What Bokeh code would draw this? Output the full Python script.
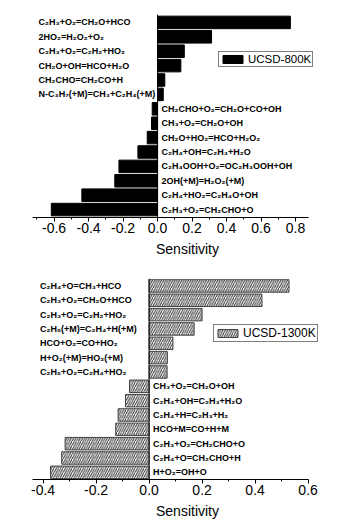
from bokeh.plotting import figure
from bokeh.models import Range1d, FixedTicker, PrintfTickFormatter, Span, Legend, LegendItem, ColumnDataSource
from bokeh.layouts import column
from bokeh.core.properties import value
from bokeh.embed import file_html
from bokeh.resources import INLINE

reactions_800 = [
    "C₂H₃+O₂=CH₂O+HCO", "2HO₂=H₂O₂+O₂", "C₂H₃+O₂=C₂H₂+HO₂", "CH₂O+OH=HCO+H₂O",
    "CH₂CHO=CH₂CO+H", "N-C₃H₇(+M)=CH₃+C₂H₄(+M)", "CH₂CHO+O₂=CH₂O+CO+OH",
    "CH₃+O₂=CH₂O+OH", "CH₂O+HO₂=HCO+H₂O₂", "C₂H₄+OH=C₂H₃+H₂O",
    "C₂H₄OOH+O₂=OC₂H₃OOH+OH", "2OH(+M)=H₂O₂(+M)", "C₂H₄+HO₂=C₂H₄O+OH",
    "C₂H₃+O₂=CH₂CHO+O",
]
sens_800 = [0.77, 0.313, 0.155, 0.135, 0.042, 0.033, -0.031, -0.035, -0.06,
            -0.114, -0.224, -0.248, -0.439, -0.616]

reactions_1300 = [
    "C₂H₄+O=CH₃+HCO", "C₂H₃+O₂=CH₂O+HCO", "C₂H₃+O₂=C₂H₂+HO₂", "C₂H₅(+M)=C₂H₄+H(+M)",
    "HCO+O₂=CO+HO₂", "H+O₂(+M)=HO₂(+M)", "C₂H₅+O₂=C₂H₄+HO₂", "CH₃+O₂=CH₂O+OH",
    "C₂H₄+OH=C₂H₃+H₂O", "C₂H₄+H=C₂H₃+H₂", "HCO+M=CO+H+M", "C₂H₃+O₂=CH₂CHO+O",
    "C₂H₄+O=CH₂CHO+H", "H+O₂=OH+O",
]
sens_1300 = [0.528, 0.426, 0.2, 0.17, 0.09, 0.069, 0.068, -0.074, -0.089,
             -0.117, -0.126, -0.317, -0.33, -0.372]

ticks_800 = [-0.6, -0.4, -0.2, 0.0, 0.2, 0.4, 0.6, 0.8]
minor_800 = [-0.7, -0.5, -0.3, -0.1, 0.1, 0.3, 0.5, 0.7]
ticks_1300 = [-0.4, -0.2, 0.0, 0.2, 0.4, 0.6]
minor_1300 = [-0.3, -0.1, 0.1, 0.3, 0.5]

FONT = "Liberation Sans"
FRAME_W = 310


def make_plot(names, vals, axis_bounds, px_per_unit, ticks, minor, label_x, yr, frame_h,
              border_top, border_bottom, legend_name, legend_loc, legend_font, hatched):
    x_end = axis_bounds[0] + FRAME_W / px_per_unit
    p = figure(output_backend="svg", toolbar_location=None,
               frame_width=FRAME_W, frame_height=frame_h,
               x_range=Range1d(axis_bounds[0], x_end), y_range=Range1d(*yr),
               min_border_left=32, min_border_right=4,
               min_border_top=border_top, min_border_bottom=border_bottom)
    p.outline_line_color = None
    p.xgrid.visible = False
    p.ygrid.visible = False
    p.yaxis.visible = False
    ys = list(range(len(vals)))
    src = ColumnDataSource(dict(y=ys, v=vals))
    if hatched:
        r = p.hbar(y="y", right="v", left=0, height=0.87, source=src,
                   fill_color="white", line_color="#444444", line_width=1,
                   hatch_pattern="/", hatch_color="#333333", hatch_scale=4.5, hatch_weight=1)
    else:
        r = p.hbar(y="y", right="v", left=0, height=0.87, source=src,
                   fill_color="black", line_color="black", line_width=1)
    p.add_layout(Span(location=0, dimension="height", line_color="black", line_width=1))

    pos_y = [y for y, v in zip(ys, vals) if v >= 0]
    pos_t = [n for n, v in zip(names, vals) if v >= 0]
    neg_y = [y for y, v in zip(ys, vals) if v < 0]
    neg_t = [n for n, v in zip(names, vals) if v < 0]
    p.text(x=[label_x] * len(pos_y), y=pos_y, text=pos_t, text_font=value(FONT),
           text_font_style="bold", text_font_size="9px", text_baseline="middle",
           text_align="left", text_color="black")
    p.text(x=[0] * len(neg_y), y=neg_y, text=neg_t, x_offset=4, text_font=value(FONT),
           text_font_style="bold", text_font_size="9px", text_baseline="middle",
           text_align="left", text_color="black")

    ax = p.xaxis[0]
    ax.bounds = axis_bounds
    ax.ticker = FixedTicker(ticks=ticks, minor_ticks=minor)
    ax.formatter = PrintfTickFormatter(format="%.1f")
    ax.axis_label = "Sensitivity"
    ax.axis_label_text_font = FONT
    ax.axis_label_text_font_style = "normal"
    ax.axis_label_text_font_size = "14px"
    ax.axis_label_text_color = "black"
    ax.axis_label_standoff = 5
    ax.major_label_text_font = FONT
    ax.major_label_text_font_size = "14px"
    ax.major_label_text_color = "black"
    ax.major_label_standoff = 1
    ax.major_tick_out = 4
    ax.major_tick_in = 0
    ax.minor_tick_out = 2
    ax.minor_tick_in = 0
    ax.axis_line_color = "black"
    ax.major_tick_line_color = "black"
    ax.minor_tick_line_color = "black"

    legend = Legend(items=[LegendItem(label=legend_name, renderers=[r])],
                    location=legend_loc, border_line_color="black", border_line_width=1,
                    background_fill_color="white", background_fill_alpha=1,
                    padding=1, margin=0, spacing=0, glyph_width=25, glyph_height=10,
                    label_height=10, label_standoff=3,
                    label_text_font=FONT, label_text_font_size=legend_font,
                    label_text_color="black")
    p.add_layout(legend)
    return p


p1 = make_plot(reactions_800, sens_800, (-0.725, 0.875), 172.5, ticks_800, minor_800, -0.69,
               (13.55, -0.55), 203, 14, 53, "UCSD-800K", (186, 150), "11.5px", False)
p2 = make_plot(reactions_1300, sens_1300, (-0.44, 0.6), 265.0, ticks_1300, minor_1300, -0.412,
               (13.5, -0.52), 201, 8, 44, "UCSD-1300K", (181, 137), "12px", True)

layout = column(p1, p2, spacing=0)
open("out.html", "w").write(file_html(layout, INLINE))
